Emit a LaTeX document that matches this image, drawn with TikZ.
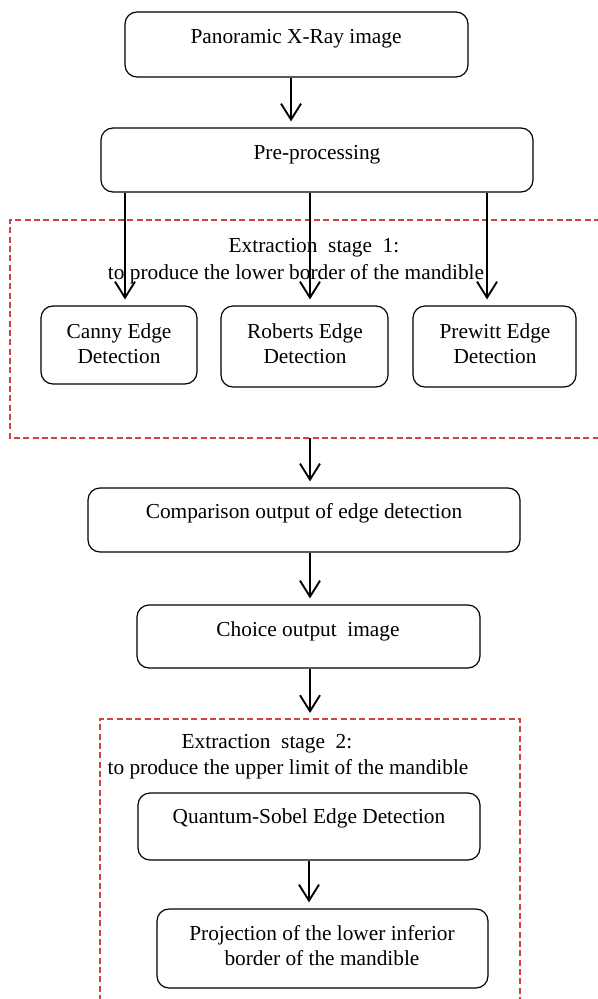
\documentclass[tikz,border=0pt]{standalone}
\usepackage{fontspec}
\setmainfont{Liberation Serif}
\usetikzlibrary{arrows.meta,fit}
\definecolor{stagered}{RGB}{204,68,68}
\tikzset{
  box/.style={draw, rounded corners=9pt, line width=0.9pt, inner sep=0pt},
  txt/.style={font=\fontsize{16}{18.75}\selectfont, align=center, inner sep=0pt},
  arr/.style={-{Straight Barb[length=12pt,width=15pt]}, line width=1.4pt, shorten >=4.5pt},
  stage/.style={draw=stagered, dash pattern=on 4.5pt off 2.5pt, line width=1.1pt}
}
\begin{document}
\begin{tikzpicture}[x=0.75pt, y=-0.75pt]
  \useasboundingbox (0,0) rectangle (598,999);

  % main boxes
  \node[box, fit={(125,12) (468,77)}] (xray) {};
  \node[txt] (xraytxt) at (296,39) {Panoramic X-Ray image};
  \node[box, fit={(101,128) (533,192)}] (pre) {};
  \node[txt] (pretxt) at (317,155) {Pre-processing};

  % extraction stage 1
  \draw[stage] (600,220) -- (10,220) -- (10,438) -- (600,438);
  \coordinate (st1bot) at (310,438);
  \node[txt] (st1a) at (314,248) {Extraction\ \ stage\ \ 1:};
  \node[txt] (st1b) at (296,274) {to produce the lower border of the mandible};
  \node[box, fit={(41,306) (197,384)}] (canny) {};
  \node[txt] (cannytxt) at (119,344) {Canny Edge\\Detection};
  \node[box, fit={(221,306) (388,387)}] (roberts) {};
  \node[txt] (robertstxt) at (305,344) {Roberts Edge\\Detection};
  \node[box, fit={(413,306) (576,387)}] (prewitt) {};
  \node[txt] (prewitttxt) at (495,344) {Prewitt Edge\\Detection};

  \node[box, fit={(88,488) (520,552)}] (cmp) {};
  \node[txt] (cmptxt) at (304,513) {Comparison output of edge detection};
  \node[box, fit={(137,605) (480,668)}] (choice) {};
  \node[txt] (choicetxt) at (308,631) {Choice output\ \ image};

  % extraction stage 2
  \draw[stage] (100,1001) -- (100,719) -- (520,719) -- (520,1001);
  \coordinate (st2top) at (310,719);
  \node[txt] (st2a) at (267,744) {Extraction\ \ stage\ \ 2:};
  \node[txt] (st2b) at (288,769) {to produce the upper limit of the mandible};
  \node[box, fit={(138,793) (480,860)}] (sobel) {};
  \node[txt] (sobeltxt) at (309,818) {Quantum-Sobel Edge Detection};
  \node[box, fit={(157,909) (488,988)}] (proj) {};
  \node[txt] (projtxt) at (322,946) {Projection of the lower inferior\\border of the mandible};

  % arrows
  \draw[arr] ([xshift=-4.1pt]xray.south) -- ([xshift=-4.1pt]xray.south |- pre.north);
  \draw[arr] ([xshift=4.5pt]canny.north |- pre.south) -- ([xshift=4.5pt]canny.north);
  \draw[arr] ([xshift=4.1pt]roberts.north |- pre.south) -- ([xshift=4.1pt]roberts.north);
  \draw[arr] ([xshift=-5.6pt]prewitt.north |- pre.south) -- ([xshift=-5.6pt]prewitt.north);
  \draw[arr] (st1bot) -- (st1bot |- cmp.north);
  \draw[arr] ([xshift=4.5pt]cmp.south) -- ([xshift=4.5pt]cmp.south |- choice.north);
  \draw[arr] (choice.south -| st2top) -- (st2top);
  \draw[arr] (sobel.south) -- (sobel.south |- proj.north);
\end{tikzpicture}
\end{document}
